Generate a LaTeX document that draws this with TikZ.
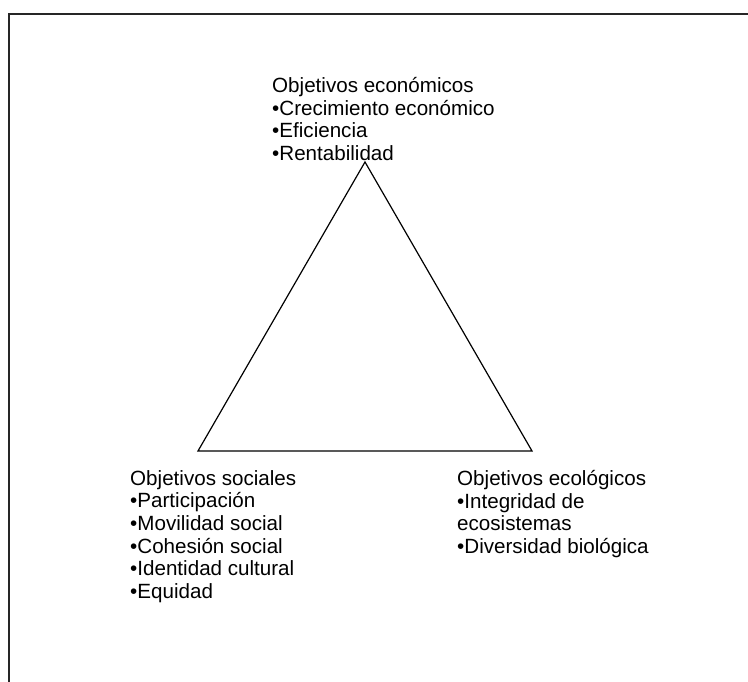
\documentclass[tikz,border=0pt]{standalone}
\usepackage{fontspec}
\setmainfont{Liberation Sans}
\usetikzlibrary{positioning}

\begin{document}
\begin{tikzpicture}[x=1pt, y=1pt]
	\useasboundingbox (0, 0) rectangle (748, 682);
	\begin{scope}
		\tikzstyle{every node}=[align=left, inner sep=0pt, anchor=north west, font=\fontsize{20.6}{22.7}\selectfont]

		% frame, cut by the page on the right and at the bottom
		\draw [line width=1.6pt, black!85] (9, -20) rectangle (780, 668);

		\coordinate (apex)  at (365, 520);
		\coordinate (left)  at (198, 231);
		\coordinate (right) at (532, 231);
		\draw [line width=1.2pt, line join=miter] (apex) -- (left) -- (right) -- cycle;

		\node (econ) at (272, 605) {Objetivos económicos\\ •Crecimiento económico\\ •Eficiencia\\ •Rentabilidad};
		\node (soc)  at (130, 212) {Objetivos sociales\\ •Participación\\ •Movilidad social\\ •Cohesión social\\ •Identidad cultural\\ •Equidad};
		\node (eco)  at (457, 212) {Objetivos ecológicos\\ •Integridad de\\ ecosistemas\\ •Diversidad biológica};
	\end{scope}
\end{tikzpicture}
\end{document}
